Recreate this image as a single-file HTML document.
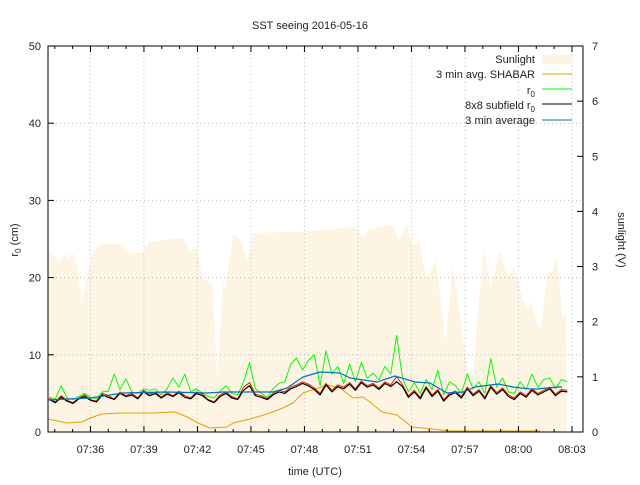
<!DOCTYPE html>
<html><head><meta charset="utf-8"><style>
body{margin:0;background:#fff;}
svg text{font-family:"Liberation Sans",sans-serif;font-size:11px;fill:#222;}
</style></head><body>
<svg id="c" width="640" height="480" xmlns="http://www.w3.org/2000/svg"></svg>
<script>
// Data (minutes after 07:30)
const sunT=[3.62,4.24,4.69,4.74,5.02,5.25,5.53,5.70,6.09,6.65,7.66,8.23,8.90,9.35,11.2,11.6,11.88,12.33,12.83,13.11,13.45,13.56,14.01,14.41,14.80,15.14,17.78,20.03,20.87,21.26,21.6,22.95,23.28,23.73,24.07,24.41,24.8,24.97,25.36,25.92,26.32,27.16,27.44,28.06,28.45,28.96,29.41,29.74,30.25,30.53,30.7,31.09,31.26,31.65,31.88,32.16,32.5,32.66,32.72];
const sunV=[3.32,3.09,3.25,3.09,3.25,2.99,2.36,2.63,3.25,3.41,3.41,3.25,3.25,3.45,3.52,3.27,3.39,2.76,2.72,1.0,2.76,2.58,3.61,3.48,3.09,3.61,3.63,3.70,3.72,3.52,3.67,3.76,3.48,3.77,3.39,3.48,2.79,2.85,3.12,1.63,3.03,1.09,1.07,3.36,2.63,3.27,2.81,2.99,2.40,2.21,2.36,1.91,1.91,2.89,2.90,3.16,2.03,2.21,0];
const shabarX=[48,67,82,90,102,120,140,153,175,187,198,210,227,233,250,267,283,293,303,327,340,353,363,370,382,397,412,433,450,483,530,540];
const shabarY=[419,423,422,418,414,413,413,413,412,417,423,428,427,423,419,414,408,403,393,385,388,398,397,402,412,415,427,429,431,431,431,431];
const avgX=[48,90,123,167,207,223,273,287,303,320,340,350,377,395,415,430,447,463,475,498,513,530,537,557,562];
const avgY=[400,398,393,392,393,392,392,388,377,372,373,378,382,376,382,383,393,392,387,384,387,389,389,387,387];
const r0Start=3.7, r0Step=0.33;
const black=[4.2,3.8,4.5,4.0,3.7,4.3,4.6,4.1,3.9,4.8,4.5,4.2,5.0,4.6,4.8,4.3,5.2,4.7,5.0,4.4,4.9,4.6,5.1,4.5,4.3,5.0,4.7,4.1,3.8,4.6,5.0,4.4,4.2,5.4,6.0,4.7,4.5,4.2,4.8,5.2,5.0,5.6,5.9,6.3,6.0,5.5,4.8,6.1,5.2,5.9,5.6,6.2,5.4,6.4,5.8,6.1,5.5,6.3,5.9,6.5,5.9,4.5,5.2,4.3,5.7,4.6,5.3,4.0,4.8,5.1,4.4,5.6,4.7,5.3,4.3,5.8,4.9,5.5,4.6,4.2,5.0,4.5,5.4,4.8,5.2,5.6,4.7,5.3,5.2];
const green=[4.5,4.3,6.0,4.4,4.2,4.6,5.0,4.5,4.3,5.2,5.3,7.5,5.5,6.9,5.2,5.0,5.6,5.4,5.6,4.8,5.6,7.0,5.8,7.5,5.2,5.6,5.0,4.6,4.4,5.3,6.0,5.0,4.8,6.5,9.0,5.6,5.0,4.5,5.6,6.3,6.5,8.8,9.6,8.0,9.3,10.0,6.0,10.5,7.5,8.5,6.3,8.8,6.5,9.0,7.0,7.6,6.8,8.5,7.5,12.5,7.0,5.2,6.4,5.0,6.8,5.5,8.0,4.8,6.5,6.0,5.0,7.5,5.6,6.5,5.0,9.5,5.8,7.0,5.2,5.0,6.5,5.5,7.5,5.8,6.8,7.0,5.6,6.8,6.5];
const red=[4.4,3.9,4.7,4.1,3.8,4.4,4.8,4.2,4.0,5.0,4.7,4.3,5.2,4.7,5.0,4.4,5.4,4.9,5.2,4.5,5.1,4.7,5.3,4.7,4.4,5.2,4.9,4.2,3.9,4.8,5.2,4.6,4.3,5.8,6.4,4.9,4.7,4.3,5.0,5.4,5.2,5.8,6.1,6.5,6.2,5.7,5.0,6.3,5.4,6.1,5.8,6.4,5.6,6.6,6.0,6.3,5.7,6.5,6.1,7.2,6.1,4.7,5.4,4.5,5.9,4.8,5.5,4.2,5.0,5.3,4.6,5.8,4.9,5.5,4.5,6.0,5.1,5.7,4.8,4.4,5.2,4.7,5.6,5.0,5.4,5.8,4.9,5.5,5.4];
const xTicks=["07:36","07:39","07:42","07:45","07:48","07:51","07:54","07:57","08:00","08:03"];
const xTickMin=[6,9,12,15,18,21,24,27,30,33];
const yTicks=[0,10,20,30,40,50];
const y2Ticks=[0,1,2,3,4,5,6,7];

const L=48,R=583,T=46,B=432;
const X=t=>L+(t-3.62)*(R-L)/30;
const Y=v=>B-v*(B-T)/50;
const Y2=v=>B-v*(B-T)/7;
const NS="http://www.w3.org/2000/svg";
const svg=document.getElementById('c');
function mk(tag,attrs,parent){const e=document.createElementNS(NS,tag);for(const k in attrs)e.setAttribute(k,attrs[k]);(parent||svg).appendChild(e);return e;}

let d=`M${X(sunT[0])},${Y2(0)}`;
sunT.forEach((t,i)=>{d+=`L${X(t).toFixed(1)},${Y2(sunV[i]).toFixed(1)}`;});
d+="Z";
let el=mk('path',{d:d,fill:'#fef4e4',stroke:'none'});



yTicks.forEach(v=>{if(v>0&&v<50){let g=mk('line',{x1:L,x2:R,y1:Y(v),y2:Y(v),stroke:'#bbb','stroke-dasharray':'1,3'});}});
xTickMin.forEach(m=>{let g=mk('line',{x1:X(m),x2:X(m),y1:T,y2:B,stroke:'#bbb','stroke-dasharray':'1,3'});});

function poly(pts,color,w,name){const p=mk('polyline',{points:pts.map(p=>p[0].toFixed(1)+','+p[1].toFixed(1)).join(' '),fill:'none',stroke:color,'stroke-width':w,'stroke-linejoin':'round'});return p;}
const rT=i=>r0Start+i*r0Step;
poly(shabarX.map((x,i)=>[x,shabarY[i]]),'#e6a000',1,'shabar-line');
poly(green.map((v,i)=>[X(rT(i)),Y(v)]),'#00ff00',1,'r0-line');
poly(red.map((v,i)=>[X(rT(i)),Y(v)]),'#e02000',1,'r0-red-line');
poly(black.map((v,i)=>[X(rT(i)),Y(v)]),'#000',1.2,'subfield-r0-line');
poly(avgX.map((x,i)=>[x,avgY[i]]),'#0072bd',1.2,'avg-line');

el=mk('rect',{x:L,y:T,width:R-L,height:B-T,fill:'none',stroke:'#000','stroke-width':1});


for(let m=4;m<=33;m++){mk('line',{x1:X(m),x2:X(m),y1:B,y2:B-(m%3==0?6:3),stroke:'#000'});mk('line',{x1:X(m),x2:X(m),y1:T,y2:T+(m%3==0?6:3),stroke:'#000'});}
xTicks.forEach((s,i)=>{const t=mk('text',{x:X(xTickMin[i]),y:453,'text-anchor':'middle'});t.textContent=s;});
yTicks.forEach(v=>{mk('line',{x1:L,x2:L+6,y1:Y(v),y2:Y(v),stroke:'#000'});const t=mk('text',{x:L-7,y:Y(v)+4,'text-anchor':'end'});t.textContent=v;});
y2Ticks.forEach(v=>{mk('line',{x1:R-6,x2:R,y1:Y2(v),y2:Y2(v),stroke:'#000'});const t=mk('text',{x:R+9,y:Y2(v)+4,'text-anchor':'start'});t.textContent=v;});
</script>
<svg width="640" height="480" style="position:absolute;left:0;top:0" xmlns="http://www.w3.org/2000/svg">
<text x="310" y="29" text-anchor="middle">SST seeing 2016-05-16</text>
<text x="315" y="475" text-anchor="middle">time (UTC)</text>
<text transform="translate(18,240) rotate(-90)" text-anchor="middle">r<tspan font-size="8" dy="3">0</tspan><tspan dy="-3"> (cm)</tspan></text>
<text transform="translate(618,240) rotate(90)" text-anchor="middle">sunlight (V)</text>
<g text-anchor="end">
<text x="535" y="63">Sunlight</text><rect x="542" y="55" width="30" height="9" fill="#fef4e4"/>
<text x="535" y="78">3 min avg. SHABAR</text><line x1="542" x2="572" y1="74" y2="74" stroke="#e6a000"/>
<text x="535" y="94">r<tspan font-size="8" dy="3">0</tspan></text><line x1="542" x2="572" y1="89" y2="89" stroke="#00ff00"/>
<text x="535" y="109">8x8 subfield r<tspan font-size="8" dy="3">0</tspan></text><line x1="542" x2="572" y1="104" y2="104" stroke="#000"/>
<text x="535" y="124">3 min average</text><line x1="542" x2="572" y1="120" y2="120" stroke="#0072bd"/>
</g>
</svg>
</body></html>
